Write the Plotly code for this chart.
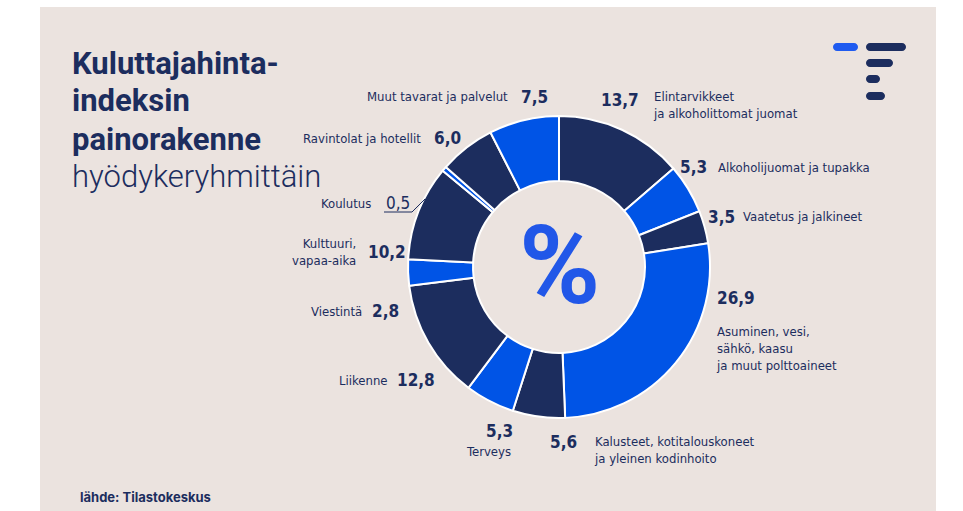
import plotly.graph_objects as go

# Consumer price index weights by commodity group (%)
groups = [
    "Elintarvikkeet ja alkoholittomat juomat",
    "Alkoholijuomat ja tupakka",
    "Vaatetus ja jalkineet",
    "Asuminen, vesi, sähkö, kaasu ja muut polttoaineet",
    "Kalusteet, kotitalouskoneet ja yleinen kodinhoito",
    "Terveys",
    "Liikenne",
    "Viestintä",
    "Kulttuuri, vapaa-aika",
    "Koulutus",
    "Ravintolat ja hotellit",
    "Muut tavarat ja palvelut",
]
weights = [13.7, 5.3, 3.5, 26.9, 5.6, 5.3, 12.8, 2.8, 10.2, 0.5, 6.0, 7.5]
value_labels = ["13,7", "5,3", "3,5", "26,9", "5,6", "5,3", "12,8", "2,8", "10,2", "0,5", "6,0", "7,5"]

W, H = 963, 511
NAVY = "#1C2D5E"
BLUE = "#0054E6"
BG = "#EBE3DF"
LABEL_FONT = "DejaVu Sans Condensed, sans-serif"
TITLE_FONT = "Roboto, sans-serif"


def px(x):
    return x / W


def py(y):
    return 1 - y / H


# donut geometry (pixels)
cx, cy, r_out, r_in = 559, 267, 151, 86

slice_colors = [NAVY if i % 2 == 0 else BLUE for i in range(len(weights))]

fig = go.Figure(
    go.Pie(
        labels=groups,
        values=weights,
        sort=False,
        direction="clockwise",
        rotation=0,
        hole=r_in / r_out,
        marker=dict(colors=slice_colors, line=dict(color="white", width=2)),
        textinfo="none",
        hoverinfo="label+value",
        showlegend=False,
        domain=dict(
            x=[px(cx - r_out), px(cx + r_out)],
            y=[py(cy + r_out), py(cy - r_out)],
        ),
    )
)

shapes = [
    dict(type="rect", xref="paper", yref="paper", x0=px(40), x1=px(936), y0=py(511), y1=py(7),
         fillcolor=BG, line=dict(width=0), layer="below"),
    # leader line for the small Koulutus slice
    dict(type="path", xref="paper", yref="paper",
         path=f"M {px(384)} {py(212)} L {px(412)} {py(212)} L {px(425)} {py(199)}",
         line=dict(color=NAVY, width=1)),
]


def pill(x0, x1, yc, h, color):
    r = h / 2
    k = 0.5523 * r
    pts = [
        ("M", [(x0 + r, yc - r)]),
        ("L", [(x1 - r, yc - r)]),
        ("C", [(x1 - r + k, yc - r), (x1, yc - k), (x1, yc)]),
        ("C", [(x1, yc + k), (x1 - r + k, yc + r), (x1 - r, yc + r)]),
        ("L", [(x0 + r, yc + r)]),
        ("C", [(x0 + r - k, yc + r), (x0, yc + k), (x0, yc)]),
        ("C", [(x0, yc - k), (x0 + r - k, yc - r), (x0 + r, yc - r)]),
    ]
    path = " ".join(cmd + " " + " ".join(f"{px(a):.5f},{py(b):.5f}" for a, b in p) for cmd, p in pts) + " Z"
    return dict(type="path", xref="paper", yref="paper", path=path,
                fillcolor=color, line=dict(width=0))


# logo
shapes += [
    pill(833, 858, 47, 8, "#1F5BF0"),
    pill(866, 906, 47, 8, NAVY),
    pill(866, 893, 63, 8, NAVY),
    pill(866, 880, 79, 8, NAVY),
    pill(866, 885, 96, 8, NAVY),
]

annotations = []


def txt(x, y, text, size, anchor="left", bold=False, family=LABEL_FONT, color=NAVY, weight=None):
    annotations.append(dict(
        xref="paper", yref="paper", x=px(x), y=py(y), text=text, showarrow=False,
        xanchor=anchor, yanchor="middle", align=anchor if anchor != "center" else "center",
        font=dict(family=family, size=size, color=color,
                  weight=weight if weight is not None else (700 if bold else 400)),
    ))


LBL, VAL = 13, 17

# slice labels
txt(641, 100, value_labels[0], VAL, "right", True)
txt(651, 105, "Elintarvikkeet<br>ja alkoholittomat juomat", LBL, "left")
txt(709, 167, value_labels[1], VAL, "right", True)
txt(716, 167, "Alkoholijuomat ja tupakka", LBL, "left")
txt(737, 217, value_labels[2], VAL, "right", True)
txt(741, 217, "Vaatetus ja jalkineet", LBL, "left")
txt(715, 298, value_labels[3], VAL, "left", True)
txt(714, 348, "Asuminen, vesi,<br>sähkö, kaasu<br>ja muut polttoaineet", LBL, "left")
txt(579, 442, value_labels[4], VAL, "right", True)
txt(592, 450, "Kalusteet, kotitalouskoneet<br>ja yleinen kodinhoito", LBL, "left")
txt(515, 431, value_labels[5], VAL, "right", True)
txt(513, 451, "Terveys", LBL, "right")
txt(390, 380, "Liikenne", LBL, "right")
txt(395, 380, value_labels[6], VAL, "left", True)
txt(364, 311, "Viestintä", LBL, "right")
txt(370, 311, value_labels[7], VAL, "left", True)
txt(358, 252, "Kulttuuri,<br>vapaa-aika", LBL, "right")
txt(366, 252, value_labels[8], VAL, "left", True)
txt(373, 203, "Koulutus", LBL, "right")
txt(384, 203, value_labels[9], VAL, "left", False)
txt(423, 138, "Ravintolat ja hotellit", LBL, "right")
txt(432, 138, value_labels[10], VAL, "left", True)
txt(510, 97, "Muut tavarat ja palvelut", LBL, "right")
txt(519, 97, value_labels[11], VAL, "left", True)

# centre symbol
txt(559, 265, "%", 110, "center", True, family="Roboto, sans-serif", color="#2157E8")

# title block
txt(70, 63, "Kuluttajahinta-", 31, "left", True, family=TITLE_FONT)
txt(70, 101, "indeksin", 31, "left", True, family=TITLE_FONT)
txt(70, 139, "painorakenne", 31, "left", True, family=TITLE_FONT)
txt(70, 177, "hyödykeryhmittäin", 31, "left", False, family=TITLE_FONT, weight=300)

# source
txt(78, 497, "lähde: Tilastokeskus", 13, "left", True, family="Inter, Roboto, sans-serif")

fig.update_layout(
    width=W, height=H,
    margin=dict(l=0, r=0, t=0, b=0),
    paper_bgcolor="white",
    plot_bgcolor="white",
    shapes=shapes,
    annotations=annotations,
)

fig.write_html("out.html")
